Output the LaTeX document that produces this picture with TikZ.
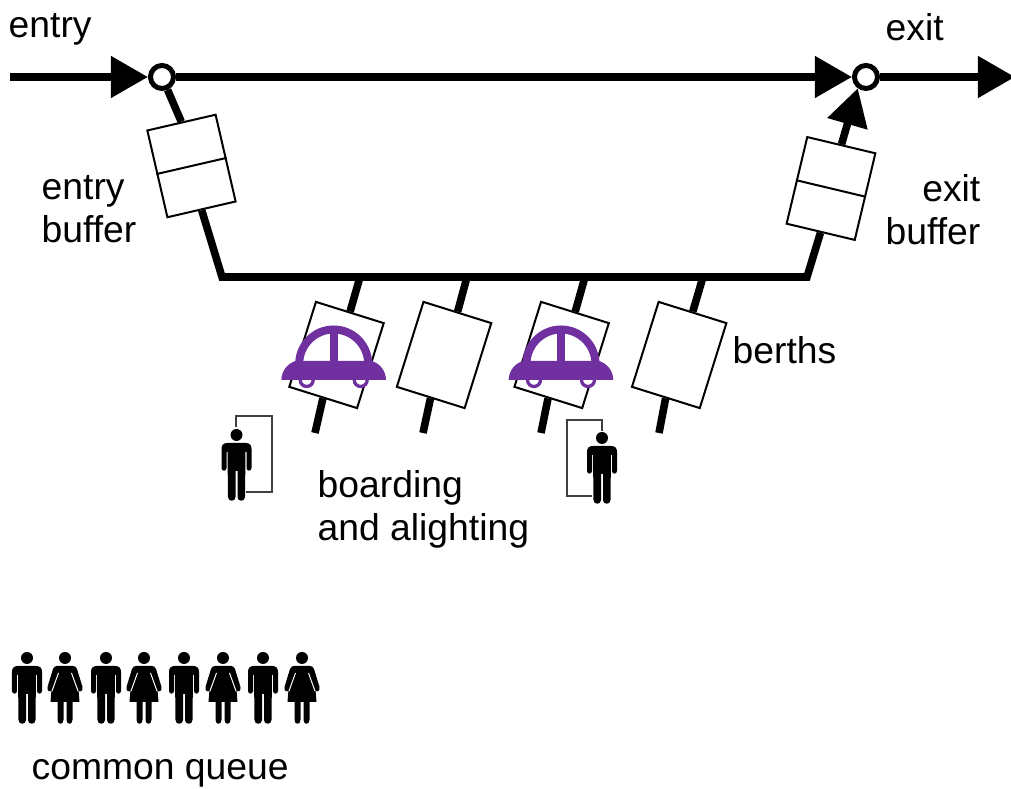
\documentclass[tikz,border=0pt]{standalone}
\usepackage{fontspec}
\setmainfont{Liberation Sans}
\usetikzlibrary{arrows.meta, positioning}

\definecolor{carpurple}{HTML}{7030A0}
\definecolor{doorgray}{HTML}{404040}

\tikzset{
    track/.style={line width=.076cm},
    head/.style={-{Triangle[length=.37cm,width=.40cm]}},
    junction/.style={circle, draw, fill=white, line width=.05cm, minimum size=.23cm, inner sep=0pt},
    bufbox/.style={rectangle, draw, fill=white, line width=.02cm, minimum width=.70cm, minimum height=.89cm, inner sep=0pt},
    berth/.style={rectangle, draw, fill=white, line width=.02cm, minimum width=.71cm, minimum height=.89cm, rotate=-17.4, inner sep=0pt},
    txt/.style={inner sep=0pt, font=\fontsize{10.6}{12.2}\selectfont},
    door/.style={draw=doorgray, line width=.016cm},
    man/.pic={
        \fill (0,0) circle[radius=6];
        \fill (-9,8) -- (9,8) .. controls (13,8) and (15,10) .. (15,14) -- (15,33)
            .. controls (15,36.5) and (10,36.5) .. (10,33) -- (10,17) -- (9,17) -- (8.5,62)
            .. controls (8.5,67) and (1,67) .. (1,62) -- (1,36) -- (-1,36) -- (-1,62)
            .. controls (-1,67) and (-8.5,67) .. (-8.5,62) -- (-9,17) -- (-10,17) -- (-10,33)
            .. controls (-10,36.5) and (-15,36.5) .. (-15,33) -- (-15,14)
            .. controls (-15,10) and (-13,8) .. (-9,8) -- cycle;
    },
    woman/.pic={
        \fill (0,0) circle[radius=6];
        \fill (-8,8) -- (8,8) .. controls (10,8) and (11,9) .. (12,11) -- (17.5,29)
            .. controls (18.5,33) and (14.5,35) .. (13.5,32) -- (14.5,44) -- (7.5,44) -- (7.5,62)
            .. controls (7.5,67) and (1.5,67) .. (1.5,62) -- (1.5,44) -- (-1.5,44) -- (-1.5,62)
            .. controls (-1.5,67) and (-7.5,67) .. (-7.5,62) -- (-7.5,44) -- (-14.5,44) -- (-13.5,32)
            .. controls (-14.5,35) and (-18.5,33) .. (-17.5,29) -- (-12,11)
            .. controls (-11,9) and (-10,8) .. (-8,8) -- cycle;
        \draw[white, line width=.01cm] (-6.5,15) -- (-13,33) (6.5,15) -- (13,33);
    },
    car/.pic={
        \draw[carpurple, fill=white, line width=.033cm] (-33.5,0) arc[start angle=180, end angle=0, radius=6.5];
        \draw[carpurple, fill=white, line width=.033cm] (20.5,0) arc[start angle=180, end angle=0, radius=6.5];
        \fill[carpurple] (-52.3,0) .. controls (-52.3,-10) and (-45,-17) .. (-38,-19) -- (38,-19)
            .. controls (45,-17) and (52.3,-10) .. (52.3,0) -- cycle;
        \fill[carpurple] (-38.5,-16) arc[start angle=180, end angle=360, radius=38.5]
            -- (30.5,-16) arc[start angle=360, end angle=180, radius=30.5] -- cycle;
        \fill[carpurple] (-3.8,-50) rectangle (3.8,-16);
    }
}

\begin{document}
\begin{tikzpicture}[x=.01cm, y=-.01cm, node distance=1cm, on grid]
    \useasboundingbox (0,0) rectangle (1011,789);

    \node[junction](j_in) at (162,77){};
    \node[junction](j_out) at (866,77){};
    \coordinate (start) at (10,77);
    \coordinate (stop) at (1015,77);

    \node[bufbox, rotate=13](buf_in) at (191.5,166){};
    \node[bufbox, rotate=-13.4](buf_out) at (831,188.5){};
    \draw[line width=.02cm] (buf_in.west) -- (buf_in.east);
    \draw[line width=.02cm] (buf_out.west) -- (buf_out.east);

    \node[berth](b_1) at (336.5,355){};
    \node[berth](b_2)[right=1.075cm of b_1]{};
    \node[berth](b_3)[right=1.175cm of b_2]{};
    \node[berth](b_4)[right=1.175cm of b_3]{};

    \coordinate (bus_l) at (222,277);
    \coordinate (bus_r) at (807,277);
    \coordinate (tap_1) at (360,277);
    \coordinate (tap_2) at (467,277);
    \coordinate (tap_3) at (585,277);
    \coordinate (tap_4) at (703,277);
    \coordinate (end_1) at (315,433);
    \coordinate (end_2) at (423,433);
    \coordinate (end_3) at (541,433);
    \coordinate (end_4) at (659,433);

    \path[track]
    (start)         edge [head] (j_in)
    (j_in)          edge [head] (j_out)
                    edge (buf_in.north)
    (j_out)         edge [head] (stop)
    (buf_out.north) edge [head] (j_out.234)
    (b_1.north)     edge (tap_1)
    (b_2.north)     edge (tap_2)
    (b_3.north)     edge (tap_3)
    (b_4.north)     edge (tap_4)
    (b_1.south)     edge (end_1)
    (b_2.south)     edge (end_2)
    (b_3.south)     edge (end_3)
    (b_4.south)     edge (end_4);
    \draw[track] (buf_in.south) -- (bus_l) -- (bus_r) -- (buf_out.south);

    \pic at (333.7,380) {car};
    \pic at (561,380) {car};

    % people at the berths
    \coordinate (in_l) at (236,427);
    \coordinate (corner_l) at (272,416);
    \coordinate (out_l) at (246,492);
    \coordinate (in_r) at (602,431);
    \coordinate (corner_r) at (567,420);
    \coordinate (out_r) at (592,496);
    \draw[door] (in_l) |- (corner_l) |- (out_l);
    \draw[door] (in_r) |- (corner_r) |- (out_r);
    \pic at (236.5,435) {man};
    \pic at (602,438) {man};

    % common queue
    \pic at (27,658) {man};
    \pic at (65,658) {woman};
    \pic at (106,658) {man};
    \pic at (144,658) {woman};
    \pic at (184,658) {man};
    \pic at (223,658) {woman};
    \pic at (263,658) {man};
    \pic at (302,658) {woman};

    \node[txt, anchor=base west](entry_txt) at (8,38){entry};
    \node[txt, anchor=base west](exit_txt) at (885,41){exit};
    \node[txt, anchor=west, align=left](bufin_txt) at (41,209){entry\\buffer};
    \node[txt, anchor=east, align=right](bufout_txt) at (981,210){exit\\buffer};
    \node[txt, anchor=west](berth_txt) at (732,350){berths};
    \node[txt, anchor=west, align=left](board_txt) at (317,509){boarding\\and alighting};
    \node[txt, anchor=west](queue_txt) at (31,773){common queue};
\end{tikzpicture}
\end{document}
